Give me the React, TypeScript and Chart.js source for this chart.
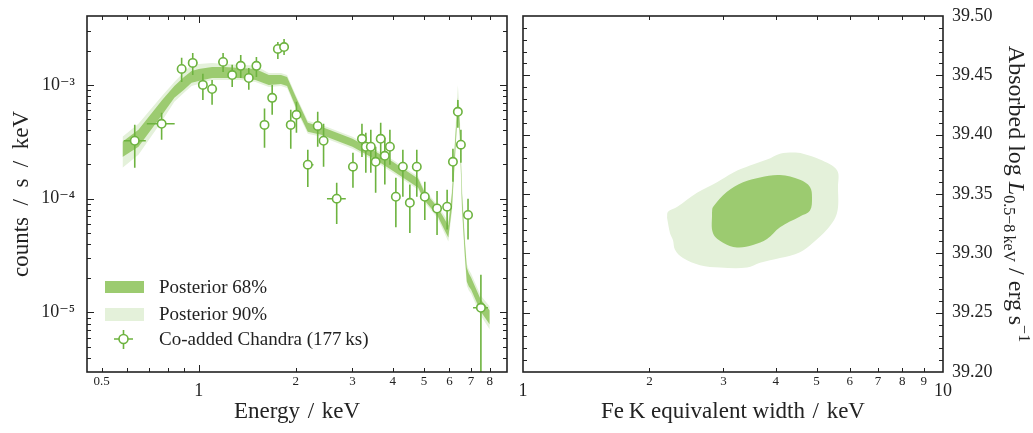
import React, { useEffect, useRef } from 'react';
import { Chart, registerables } from 'chart.js';

Chart.register(...registerables);

const FONT = "'Liberation Serif', 'DejaVu Serif', serif";
const TEXT = '#222222';
const AXIS = '#222222';
const DARK = '#9CCB70';
const LIGHT = '#E4F1DA';
const MARK = '#6DB33F';

// ---------- Left panel: co-added Chandra spectrum ----------
const energy = [0.633, 0.767, 0.885, 0.958, 1.03, 1.10, 1.19, 1.27, 1.35, 1.43, 1.51, 1.60, 1.69, 1.76, 1.84, 1.93, 2.01, 2.18, 2.34, 2.44, 2.68, 3.01, 3.21, 3.30, 3.42, 3.54, 3.67, 3.78, 3.92, 4.09, 4.30, 4.52, 4.75, 5.03, 5.49, 5.90, 6.15, 6.37, 6.51, 6.85, 7.51];
const energyLo = [0.585, 0.69, 0.86, 0.93, 1.0, 1.07, 1.15, 1.24, 1.32, 1.40, 1.48, 1.56, 1.65, 1.73, 1.81, 1.89, 1.98, 2.11, 2.29, 2.40, 2.50, 2.95, 3.17, 3.26, 3.37, 3.49, 3.62, 3.74, 3.86, 4.02, 4.22, 4.44, 4.66, 4.93, 5.38, 5.80, 6.06, 6.29, 6.46, 6.72, 7.10];
const energyHi = [0.685, 0.842, 0.91, 0.99, 1.06, 1.14, 1.23, 1.31, 1.39, 1.47, 1.55, 1.64, 1.72, 1.80, 1.88, 1.97, 2.06, 2.27, 2.39, 2.49, 2.86, 3.08, 3.25, 3.35, 3.47, 3.59, 3.72, 3.83, 3.98, 4.16, 4.38, 4.60, 4.85, 5.13, 5.60, 6.00, 6.24, 6.45, 6.58, 6.98, 7.90];
const counts = [3.23e-4, 4.55e-4, 1.38e-3, 1.56e-3, 1.0e-3, 9.2e-4, 1.59e-3, 1.22e-3, 1.47e-3, 1.15e-3, 1.47e-3, 4.45e-4, 7.69e-4, 2.07e-3, 2.15e-3, 4.45e-4, 5.46e-4, 1.99e-4, 4.36e-4, 3.23e-4, 1.0e-4, 1.91e-4, 3.36e-4, 2.86e-4, 2.86e-4, 2.11e-4, 3.36e-4, 2.38e-4, 2.86e-4, 1.04e-4, 1.91e-4, 9.2e-5, 1.91e-4, 1.04e-4, 8.2e-5, 8.5e-5, 2.11e-4, 5.8e-4, 2.98e-4, 7.2e-5, 1.1e-5];
const countsLo = [1.87e-4, 3.29e-4, 1.06e-3, 1.22e-3, 7.38e-4, 6.68e-4, 1.30e-3, 9.6e-4, 1.15e-3, 9.04e-4, 1.175e-3, 2.8e-4, 5.46e-4, 1.69e-3, 1.83e-3, 2.75e-4, 3.79e-4, 1.27e-4, 2.86e-4, 1.91e-4, 6.0e-5, 1.25e-4, 2.33e-4, 1.69e-4, 1.69e-4, 1.13e-4, 2.24e-4, 1.33e-4, 1.99e-4, 5.6e-5, 1.04e-4, 5.0e-5, 1.04e-4, 6.5e-5, 4.8e-5, 5.35e-5, 1.41e-4, 4.2e-4, 2.07e-4, 4.37e-5, 1.0e-6];
const countsHi = [4.46e-4, 5.68e-4, 1.73e-3, 1.91e-3, 1.25e-3, 1.106e-3, 1.91e-3, 1.50e-3, 1.83e-3, 1.41e-3, 1.76e-3, 6.2e-4, 1.0e-3, 2.38e-3, 2.53e-3, 6.04e-4, 7.1e-4, 2.69e-4, 5.8e-4, 4.55e-4, 1.38e-4, 2.53e-4, 4.55e-4, 3.79e-4, 4.03e-4, 2.86e-4, 4.65e-4, 3.43e-4, 4.03e-4, 1.53e-4, 2.69e-4, 1.33e-4, 2.69e-4, 1.41e-4, 1.17e-4, 1.20e-4, 2.75e-4, 7.38e-4, 4.03e-4, 1.0e-4, 2.15e-5];

const modelEnergy = [0.58, 0.65, 0.77, 0.84, 0.9, 0.95, 1.0, 1.1, 1.2, 1.35, 1.5, 1.65, 1.8, 1.88, 2.0, 2.18, 2.4, 3.0, 3.5, 4.0, 4.5, 4.8, 5.0, 5.5, 5.95, 6.11, 6.24, 6.37, 6.46, 6.56, 6.70, 6.79, 6.89, 7.0, 7.5, 8.0];
const band68Hi = [3.16e-4, 4.03e-4, 7.38e-4, 9.8e-4, 1.175e-3, 1.327e-3, 1.38e-3, 1.439e-3, 1.439e-3, 1.41e-3, 1.38e-3, 1.22e-3, 1.22e-3, 1.175e-3, 7.85e-4, 4.65e-4, 4.28e-4, 3.36e-4, 2.64e-4, 2.11e-4, 1.69e-4, 1.50e-4, 1.17e-4, 8.5e-5, 5.8e-5, 1.13e-4, 3.10e-4, 7.69e-4, 4.55e-4, 1.13e-4, 4.11e-5, 2.48e-5, 2.20e-5, 2.03e-5, 1.30e-5, 1.04e-5];
const band68Lo = [2.33e-4, 2.86e-4, 5.46e-4, 7.69e-4, 9.04e-4, 1.042e-3, 1.084e-3, 1.15e-3, 1.15e-3, 1.15e-3, 1.106e-3, 1.0e-3, 1.02e-3, 9.8e-4, 6.41e-4, 3.87e-4, 3.64e-4, 2.86e-4, 2.24e-4, 1.76e-4, 1.41e-4, 1.25e-4, 9.8e-5, 7.1e-5, 4.55e-5, 8.5e-5, 2.33e-4, 6.28e-4, 3.57e-4, 8.5e-5, 3.10e-5, 1.87e-5, 1.69e-5, 1.59e-5, 1.02e-5, 7.85e-6];
const band90Hi = [3.50e-4, 4.55e-4, 8.01e-4, 1.06e-3, 1.30e-3, 1.50e-3, 1.528e-3, 1.56e-3, 1.528e-3, 1.50e-3, 1.47e-3, 1.274e-3, 1.274e-3, 1.22e-3, 8.17e-4, 4.83e-4, 4.46e-4, 3.50e-4, 2.75e-4, 2.20e-4, 1.76e-4, 1.56e-4, 1.225e-4, 8.86e-5, 6.3e-5, 1.25e-4, 3.50e-4, 1.0e-3, 5.46e-4, 1.33e-4, 4.55e-5, 2.69e-5, 2.38e-5, 2.20e-5, 1.41e-5, 1.13e-5];
const band90Lo = [1.87e-4, 2.43e-4, 4.83e-4, 7.1e-4, 8.51e-4, 9.8e-4, 1.02e-3, 1.106e-3, 1.106e-3, 1.106e-3, 1.06e-3, 9.6e-4, 9.8e-4, 9.41e-4, 6.17e-4, 3.72e-4, 3.50e-4, 2.75e-4, 2.16e-4, 1.69e-4, 1.355e-4, 1.20e-4, 9.42e-5, 6.81e-5, 4.2e-5, 7.69e-5, 2.11e-4, 5.68e-4, 3.16e-4, 7.53e-5, 2.80e-5, 1.73e-5, 1.56e-5, 1.47e-5, 9.42e-6, 7.1e-6];

const leftXLabels = [0.5, 1, 2, 3, 4, 5, 6, 7, 8];
const leftXLabelText = ['0.5', '1', '2', '3', '4', '5', '6', '7', '8'];
const leftXMajor = [1];
const leftXMinor = [0.5, 0.6, 0.7, 0.8, 0.9, 2, 3, 4, 5, 6, 7, 8, 9];
const leftYLabels = [1e-5, 1e-4, 1e-3];
const leftYLabelText = ['10\u207B\u2075', '10\u207B\u2074', '10\u207B\u00B3'];
const leftYMinor = [3e-6, 4e-6, 5e-6, 6e-6, 7e-6, 8e-6, 9e-6, 2e-5, 3e-5, 4e-5, 5e-5, 6e-5, 7e-5, 8e-5, 9e-5, 2e-4, 3e-4, 4e-4, 5e-4, 6e-4, 7e-4, 8e-4, 9e-4, 2e-3, 3e-3, 4e-3];

// ---------- Right panel: Fe K EW vs absorbed luminosity contours ----------
const c90EW = [2.203, 2.214, 2.326, 2.596, 2.897, 3.162, 3.471, 3.811, 4.092, 4.395, 4.642, 5.095, 5.593, 5.623, 5.593, 5.294, 4.903, 4.566, 4.092, 3.667, 3.415, 2.944, 2.639, 2.404, 2.301, 2.276, 2.239, 2.203];
const c90L = [39.330, 39.335, 39.339, 39.351, 39.360, 39.368, 39.374, 39.379, 39.384, 39.385, 39.384, 39.379, 39.370, 39.356, 39.334, 39.320, 39.309, 39.301, 39.296, 39.292, 39.288, 39.288, 39.290, 39.296, 39.303, 39.311, 39.317, 39.330];
const c68EW = [2.818, 2.834, 3.06, 3.341, 3.667, 4.092, 4.566, 4.823, 4.876, 4.823, 4.566, 4.092, 3.811, 3.528, 3.232, 2.994, 2.834, 2.818];
const c68L = [39.334, 39.339, 39.352, 39.360, 39.364, 39.366, 39.362, 39.356, 39.347, 39.336, 39.331, 39.322, 39.312, 39.307, 39.305, 39.309, 39.317, 39.334];

const rightXLabels = [1, 2, 3, 4, 5, 6, 7, 8, 9, 10];
const rightXLabelText = ['1', '2', '3', '4', '5', '6', '7', '8', '9', '10'];
const rightXMajor = [1, 10];
const rightXMinor = [2, 3, 4, 5, 6, 7, 8, 9];
const rightYLabels = [39.2, 39.25, 39.3, 39.35, 39.4, 39.45, 39.5];
const rightYLabelText = ['39.20', '39.25', '39.30', '39.35', '39.40', '39.45', '39.50'];
const rightYMinor = [39.21, 39.22, 39.23, 39.24, 39.26, 39.27, 39.28, 39.29, 39.31, 39.32, 39.33, 39.34, 39.36, 39.37, 39.38, 39.39, 39.41, 39.42, 39.43, 39.44, 39.46, 39.47, 39.48, 39.49];

const POINTS_LABEL = 'Co-added Chandra (177\u2009ks)';

function framePlugin(id: string, xMajor: number[], xMinor: number[], yMajor: number[], yMinor: number[]) {
  return {
    id,
    afterDatasetsDraw(chart: any) {
      const { ctx, chartArea: a } = chart;
      const xs = chart.scales.x;
      const ys = chart.scales.y;
      ctx.save();
      ctx.strokeStyle = AXIS;
      ctx.lineWidth = 1;
      ctx.beginPath();
      const doX = (vals: number[], len: number) => {
        vals.forEach((v) => {
          const p = Math.round(xs.getPixelForValue(v)) + 0.5;
          if (p < a.left + 1 || p > a.right - 1) return;
          ctx.moveTo(p, a.bottom);
          ctx.lineTo(p, a.bottom - len);
          ctx.moveTo(p, a.top);
          ctx.lineTo(p, a.top + len);
        });
      };
      const doY = (vals: number[], len: number) => {
        vals.forEach((v) => {
          const p = Math.round(ys.getPixelForValue(v)) + 0.5;
          if (p < a.top + 1 || p > a.bottom - 1) return;
          ctx.moveTo(a.left, p);
          ctx.lineTo(a.left + len, p);
          ctx.moveTo(a.right, p);
          ctx.lineTo(a.right - len, p);
        });
      };
      doX(xMajor, 7);
      doX(xMinor, 4);
      doY(yMajor, 7);
      doY(yMinor, 4);
      ctx.stroke();
      ctx.lineWidth = 1.6;
      ctx.strokeRect(a.left, a.top, a.right - a.left, a.bottom - a.top);
      ctx.restore();
    },
  };
}

const errorBarPlugin = {
  id: 'errorBars',
  beforeDatasetDraw(chart: any, args: any) {
    const ds = chart.data.datasets[args.index];
    if (ds.label !== POINTS_LABEL) return;
    const { ctx, chartArea: a } = chart;
    const xs = chart.scales.x;
    const ys = chart.scales.y;
    ctx.save();
    ctx.beginPath();
    ctx.rect(a.left, a.top, a.right - a.left, a.bottom - a.top);
    ctx.clip();
    ctx.strokeStyle = MARK;
    ctx.lineWidth = 1.6;
    ctx.beginPath();
    for (let i = 0; i < energy.length; i++) {
      const px = xs.getPixelForValue(energy[i]);
      const py = ys.getPixelForValue(counts[i]);
      ctx.moveTo(px, ys.getPixelForValue(countsLo[i]));
      ctx.lineTo(px, ys.getPixelForValue(countsHi[i]));
      ctx.moveTo(xs.getPixelForValue(energyLo[i]), py);
      ctx.lineTo(xs.getPixelForValue(energyHi[i]), py);
    }
    ctx.stroke();
    ctx.restore();
  },
};

const legendPlugin = {
  id: 'legendBox',
  afterDraw(chart: any) {
    const ctx = chart.ctx;
    ctx.save();
    ctx.fillStyle = DARK;
    ctx.fillRect(105, 281, 39, 12);
    ctx.fillStyle = LIGHT;
    ctx.fillRect(105, 308, 39, 13);
    ctx.strokeStyle = MARK;
    ctx.lineWidth = 1.6;
    ctx.beginPath();
    ctx.moveTo(114, 339);
    ctx.lineTo(133, 339);
    ctx.moveTo(123.5, 330);
    ctx.lineTo(123.5, 349);
    ctx.stroke();
    ctx.beginPath();
    ctx.arc(123.5, 339, 4.5, 0, Math.PI * 2);
    ctx.fillStyle = '#ffffff';
    ctx.fill();
    ctx.stroke();
    ctx.fillStyle = TEXT;
    ctx.font = `19px ${FONT}`;
    ctx.textBaseline = 'middle';
    ctx.textAlign = 'left';
    ctx.fillText('Posterior 68%', 159, 288);
    ctx.fillText('Posterior 90%', 159, 315);
    ctx.fillText(POINTS_LABEL, 159, 340);
    ctx.restore();
  },
};

const rightTitlePlugin = {
  id: 'rightTitle',
  afterDraw(chart: any) {
    const ctx = chart.ctx;
    const parts = [
      { t: 'Absorbed log ', size: 24, style: '', dy: 0 },
      { t: 'L', size: 24, style: 'italic ', dy: 0 },
      { t: '0.5\u22128\u2009keV', size: 16, style: '', dy: 5 },
      { t: ' / erg\u2009s', size: 24, style: '', dy: 0 },
      { t: '\u22121', size: 16, style: '', dy: -10 },
    ];
    ctx.save();
    let total = 0;
    const widths = parts.map((p) => {
      ctx.font = `${p.style}${p.size}px ${FONT}`;
      const w = ctx.measureText(p.t).width;
      total += w;
      return w;
    });
    ctx.translate(1009 - 515, 194);
    ctx.rotate(Math.PI / 2);
    ctx.fillStyle = TEXT;
    ctx.textBaseline = 'alphabetic';
    ctx.textAlign = 'left';
    let x = -total / 2;
    parts.forEach((p, i) => {
      ctx.font = `${p.style}${p.size}px ${FONT}`;
      ctx.fillText(p.t, x, p.dy);
      x += widths[i];
    });
    ctx.restore();
  },
};

function xTickFont(majorVals: number[]) {
  return (c: any) => {
    const v = c.tick ? c.tick.value : 0;
    if (majorVals.indexOf(v) >= 0) return { family: FONT, size: 18, lineHeight: 1.9 };
    return { family: FONT, size: 13, lineHeight: 1.2 };
  };
}

const fitX = (s: any) => {
  s.height = 61;
  s.paddingLeft = 0;
  s.paddingRight = 0;
};
const fitYLeft = (s: any) => {
  s.width = 87;
  s.paddingTop = 0;
  s.paddingBottom = 0;
};
const fitYRight = (s: any) => {
  s.width = 90;
  s.paddingTop = 0;
  s.paddingBottom = 0;
};

function leftConfig(): any {
  return {
    type: 'line',
    data: {
      datasets: [
        {
          label: POINTS_LABEL,
          data: energy.map((e, i) => ({ x: e, y: counts[i] })),
          showLine: false,
          pointRadius: 4.2,
          pointBorderWidth: 1.6,
          pointBackgroundColor: '#ffffff',
          pointBorderColor: MARK,
          order: 0,
        },
        {
          label: 'Posterior 68%',
          data: modelEnergy.map((e, i) => ({ x: e, y: band68Hi[i] })),
          borderWidth: 0,
          borderColor: 'rgba(0,0,0,0)',
          backgroundColor: DARK,
          pointRadius: 0,
          fill: '+1',
          tension: 0,
          order: 1,
        },
        {
          label: 'p68lo',
          data: modelEnergy.map((e, i) => ({ x: e, y: band68Lo[i] })),
          borderWidth: 0,
          borderColor: 'rgba(0,0,0,0)',
          pointRadius: 0,
          fill: false,
          tension: 0,
          order: 1,
        },
        {
          label: 'Posterior 90%',
          data: modelEnergy.map((e, i) => ({ x: e, y: band90Hi[i] })),
          borderWidth: 0,
          borderColor: 'rgba(0,0,0,0)',
          backgroundColor: LIGHT,
          pointRadius: 0,
          fill: '+1',
          tension: 0,
          order: 2,
        },
        {
          label: 'p90lo',
          data: modelEnergy.map((e, i) => ({ x: e, y: band90Lo[i] })),
          borderWidth: 0,
          borderColor: 'rgba(0,0,0,0)',
          pointRadius: 0,
          fill: false,
          tension: 0,
          order: 2,
        },
      ],
    },
    options: {
      responsive: false,
      animation: false,
      devicePixelRatio: 1,
      events: [],
      layout: { padding: { top: 16, right: 8, left: 0, bottom: 0 } },
      plugins: { legend: { display: false }, tooltip: { enabled: false } },
      scales: {
        x: {
          type: 'logarithmic',
          position: 'bottom',
          min: 0.45,
          max: 9.05,
          grid: { display: false, drawTicks: false },
          border: { display: false },
          afterBuildTicks: (s: any) => {
            s.ticks = leftXLabels.map((v) => ({ value: v }));
          },
          afterFit: fitX,
          ticks: {
            autoSkip: false,
            maxRotation: 0,
            padding: 2,
            color: TEXT,
            font: xTickFont(leftXMajor),
            callback: (_v: any, i: number) => leftXLabelText[i],
          },
          title: {
            display: true,
            text: 'Energy\u2004/\u2004keV',
            color: TEXT,
            font: { family: FONT, size: 23 },
            padding: { top: 0, bottom: 7 },
          },
        },
        y: {
          type: 'logarithmic',
          position: 'left',
          min: 3.0e-6,
          max: 4.03e-3,
          grid: { display: false, drawTicks: false },
          border: { display: false },
          afterBuildTicks: (s: any) => {
            s.ticks = leftYLabels.map((v) => ({ value: v }));
          },
          afterFit: fitYLeft,
          ticks: {
            autoSkip: false,
            padding: 12,
            color: TEXT,
            font: { family: FONT, size: 18 },
            callback: (_v: any, i: number) => leftYLabelText[i],
          },
          title: {
            display: true,
            text: 'counts\u2002/\u2002s\u2002/\u2002keV',
            color: TEXT,
            font: { family: FONT, size: 23 },
            padding: { top: 8, bottom: 0 },
          },
        },
      },
    },
    plugins: [errorBarPlugin, framePlugin('frameL', leftXMajor, leftXMinor, leftYLabels, leftYMinor), legendPlugin],
  };
}

function rightConfig(): any {
  return {
    type: 'line',
    data: {
      datasets: [
        {
          label: '68%',
          data: c68EW.map((e, i) => ({ x: e, y: c68L[i] })),
          borderWidth: 0,
          borderColor: 'rgba(0,0,0,0)',
          backgroundColor: DARK,
          pointRadius: 0,
          fill: 'shape',
          tension: 0.35,
          order: 0,
        },
        {
          label: '90%',
          data: c90EW.map((e, i) => ({ x: e, y: c90L[i] })),
          borderWidth: 0,
          borderColor: 'rgba(0,0,0,0)',
          backgroundColor: LIGHT,
          pointRadius: 0,
          fill: 'shape',
          tension: 0.35,
          order: 1,
        },
      ],
    },
    options: {
      responsive: false,
      animation: false,
      devicePixelRatio: 1,
      events: [],
      layout: { padding: { top: 16, right: 0, left: 8, bottom: 0 } },
      plugins: { legend: { display: false }, tooltip: { enabled: false } },
      scales: {
        x: {
          type: 'logarithmic',
          position: 'bottom',
          min: 1,
          max: 10,
          grid: { display: false, drawTicks: false },
          border: { display: false },
          afterBuildTicks: (s: any) => {
            s.ticks = rightXLabels.map((v) => ({ value: v }));
          },
          afterFit: fitX,
          ticks: {
            autoSkip: false,
            maxRotation: 0,
            padding: 2,
            color: TEXT,
            font: xTickFont(rightXMajor),
            callback: (_v: any, i: number) => rightXLabelText[i],
          },
          title: {
            display: true,
            text: 'Fe\u2009K equivalent width\u2004/\u2004keV',
            color: TEXT,
            font: { family: FONT, size: 23 },
            padding: { top: 0, bottom: 7 },
          },
        },
        y: {
          type: 'linear',
          position: 'right',
          min: 39.2,
          max: 39.5,
          grid: { display: false, drawTicks: false },
          border: { display: false },
          afterBuildTicks: (s: any) => {
            s.ticks = rightYLabels.map((v) => ({ value: v }));
          },
          afterFit: fitYRight,
          ticks: {
            autoSkip: false,
            padding: 9,
            color: TEXT,
            font: { family: FONT, size: 18 },
            callback: (_v: any, i: number) => rightYLabelText[i],
          },
          title: { display: false },
        },
      },
    },
    plugins: [framePlugin('frameR', rightXMajor, rightXMinor, rightYLabels, rightYMinor), rightTitlePlugin],
  };
}

export default function App() {
  const leftRef = useRef<HTMLCanvasElement>(null);
  const rightRef = useRef<HTMLCanvasElement>(null);
  useEffect(() => {
    const c1 = new Chart(leftRef.current as HTMLCanvasElement, leftConfig());
    const c2 = new Chart(rightRef.current as HTMLCanvasElement, rightConfig());
    return () => {
      c1.destroy();
      c2.destroy();
    };
  }, []);
  return (
    <div style={{ position: 'absolute', left: 0, top: 0, width: 1033, height: 433, background: '#ffffff' }}>
      <canvas ref={leftRef} width={515} height={433} style={{ position: 'absolute', left: 0, top: 0, width: 515, height: 433 }} />
      <canvas ref={rightRef} width={518} height={433} style={{ position: 'absolute', left: 515, top: 0, width: 518, height: 433 }} />
    </div>
  );
}
